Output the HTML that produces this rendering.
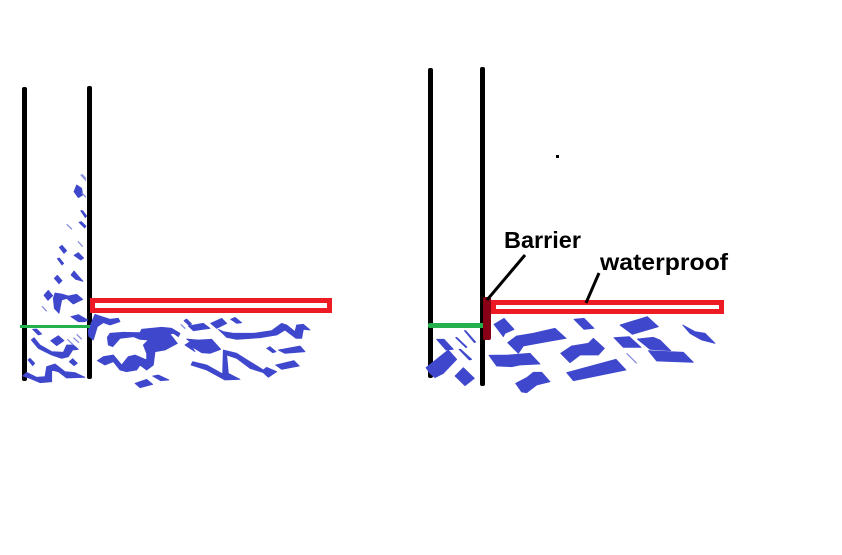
<!DOCTYPE html>
<html><head><meta charset="utf-8"><style>
html,body{margin:0;padding:0;background:#fff;width:842px;height:555px;overflow:hidden}
svg{display:block}
.b polygon{fill:#3f48cc;stroke:#3f48cc;stroke-width:2.500;stroke-linejoin:round}
.t line{stroke:#7f85dc;stroke-width:3.500}
</style></head><body>
<svg width="842" height="555" viewBox="0 0 842 555" xmlns="http://www.w3.org/2000/svg">
<rect width="842" height="555" fill="#fff"/>

<!-- black walls sit underneath the water -->
<rect x="22" y="87" width="5" height="294" rx="2" fill="#000"/>
<rect x="87" y="86" width="5" height="293" rx="2" fill="#000"/>
<rect x="428" y="68" width="5" height="310" rx="2" fill="#000"/>
<rect x="480" y="67" width="5" height="319" rx="2" fill="#000"/>

<!-- left water -->
<g class="b" transform="translate(10 170) scale(.33333)">
<polygon points="200,45 215,55 218,75 205,83 192,65"/>
<polygon points="212,122 218,122 230,138 226,143"/>
<polygon points="207,157 214,155 228,168 224,174"/>
<polygon points="148,232 156,226 170,242 162,250"/>
<polygon points="142,266 148,264 161,280 156,285"/>
<polygon points="192,256 205,248 221,264 212,270"/>
<polygon points="133,325 142,316 156,332 147,341"/>
<polygon points="183,315 192,303 205,318 219,334 205,330 197,328"/>
<polygon points="102,376 115,361 128,377 114,391"/>
<polygon points="130,385 135,369 155,372 175,378 200,373 218,388 190,402 170,385 155,390 147,430 133,415"/>
<polygon points="183,440 205,434 233,450 225,455 205,455"/>
<polygon points="68,478 80,477 95,492 85,495"/>
<polygon points="64,510 72,503 90,525 125,545 160,547 170,525 190,525 205,538 188,540 175,560 155,565 125,555 85,535"/>
<polygon points="122,512 145,497 162,512 140,527"/>
<polygon points="54,570 60,565 74,580 68,587"/>
<polygon points="178,575 188,566 202,580 192,587"/>
<polygon points="38,618 50,607 80,622 105,620 110,590 135,582 165,605 195,608 225,622 170,624 145,605 125,600 125,635 90,638 60,625"/>
<polygon points="235,480 255,433 275,440 300,448 325,445 330,455 300,465 280,458 262,470 250,510 236,498"/>
</g>
<g class="t" transform="translate(10 170) scale(.33333)">
<line x1="212" y1="14" x2="228" y2="32"/><line x1="216" y1="13" x2="228" y2="26"/>
<line x1="215" y1="68" x2="228" y2="82"/><line x1="170" y1="163" x2="186" y2="178"/>
<line x1="204" y1="214" x2="218" y2="230"/><line x1="96" y1="409" x2="110" y2="424"/>
<line x1="172" y1="508" x2="190" y2="525"/><line x1="190" y1="503" x2="207" y2="518"/>
<line x1="200" y1="493" x2="215" y2="508"/>
</g>
<g class="b" transform="translate(90 290) scale(.33333)">
<polygon points="52,142 60,130 100,127 150,128 155,118 215,112 245,115 270,130 265,140 250,130 240,132 262,160 225,180 195,185 190,225 170,240 150,225 140,240 110,245 90,240 70,215 45,225 22,212 40,200 70,195 95,225 115,200 135,195 170,210 170,190 160,165 175,150 150,148 130,140 90,145 68,170 55,165"/>
<polygon points="282,92 290,87 305,102 297,106"/>
<polygon points="295,108 340,100 360,115 310,122"/>
<polygon points="362,100 395,85 410,100 380,115"/>
<polygon points="422,88 435,82 455,98 440,100"/>
<polygon points="385,118 400,125 430,130 490,130 545,122 575,100 590,105 615,125 620,105 640,103 660,120 640,118 635,145 618,145 585,120 560,135 510,143 440,148 410,142"/>
<polygon points="285,165 300,155 290,147 325,150 365,148 392,178 360,190 335,188 305,170 315,185"/>
<polygon points="400,180 440,190 480,215 520,240 530,232 560,245 535,262 520,248 480,235 440,205 410,195 415,250 450,268 405,270 350,240 303,225 308,215 350,225 398,252"/>
<polygon points="530,175 540,170 558,185 548,188"/>
<polygon points="565,180 630,168 645,185 585,190"/>
<polygon points="557,225 612,212 628,228 575,238"/>
<polygon points="188,258 205,255 237,270 212,272"/>
<polygon points="135,280 170,268 188,283 150,293"/>
</g>
<g class="t" transform="translate(90 290) scale(.33333)"><line x1="272" y1="103" x2="286" y2="116"/></g>

<!-- right water -->
<g class="b" transform="translate(420 290) scale(.33333)">
<polygon points="222,103 252,85 282,118 255,130 250,140"/>
<polygon points="263,158 290,138 340,130 405,115 438,145 380,155 310,168 295,190"/>
<polygon points="207,196 265,195 330,190 360,222 300,225 275,230 230,228"/>
<polygon points="287,280 320,263 340,247 365,247 390,275 350,285 320,308 305,306"/>
<polygon points="105,258 130,233 163,265 135,287"/>
<polygon points="18,233 85,180 110,208 70,250 45,263 30,250"/>
<polygon points="50,148 72,148 100,178 78,180"/>
<polygon points="117,178 122,178 155,208 148,210"/>
<polygon points="107,143 110,142 141,171 138,173"/>
<polygon points="133,122 137,122 167,156 163,158"/>
</g>
<g class="b" transform="translate(560 290) scale(.33333)">
<polygon points="42,88 72,85 102,115 72,118"/>
<polygon points="180,105 262,80 295,110 217,133"/>
<polygon points="162,143 208,140 243,172 190,172"/>
<polygon points="232,147 280,142 300,150 332,182 270,178"/>
<polygon points="265,182 370,187 400,217 290,213"/>
<polygon points="368,105 405,125 435,130 465,160 425,150 390,130"/>
<polygon points="2,190 35,168 85,160 100,145 133,175 115,195 60,195 30,218"/>
<polygon points="20,248 168,208 198,240 40,272"/>
</g>
<g class="t" transform="translate(560 290) scale(.33333)"><line x1="200" y1="190" x2="230" y2="220"/></g>

<!-- left diagram overlays -->
<rect x="20" y="325" width="70" height="3" fill="#22b14c"/>
<rect x="92.500" y="300.500" width="237" height="10" fill="#fff" stroke="#ed1c24" stroke-width="5"/>

<!-- right diagram overlays -->
<rect x="428" y="323" width="56" height="5" rx="2" fill="#22b14c"/>
<rect x="483" y="297" width="8" height="43" rx="2" fill="#880015"/>
<rect x="493.500" y="302.500" width="228" height="9" fill="#fff" stroke="#ed1c24" stroke-width="5"/>

<line x1="525" y1="255" x2="487" y2="300" stroke="#000" stroke-width="3"/>
<line x1="599" y1="273" x2="586" y2="303" stroke="#000" stroke-width="3"/>
<rect x="556" y="155" width="3" height="3" fill="#000"/>

<text x="504" y="248" font-family="'Liberation Sans',sans-serif" font-weight="700" font-size="23" textLength="77" lengthAdjust="spacingAndGlyphs" fill="#000">Barrier</text>
<text x="600" y="270" font-family="'Liberation Sans',sans-serif" font-weight="700" font-size="23" textLength="128" lengthAdjust="spacingAndGlyphs" fill="#000">waterproof</text>
</svg>
</body></html>
